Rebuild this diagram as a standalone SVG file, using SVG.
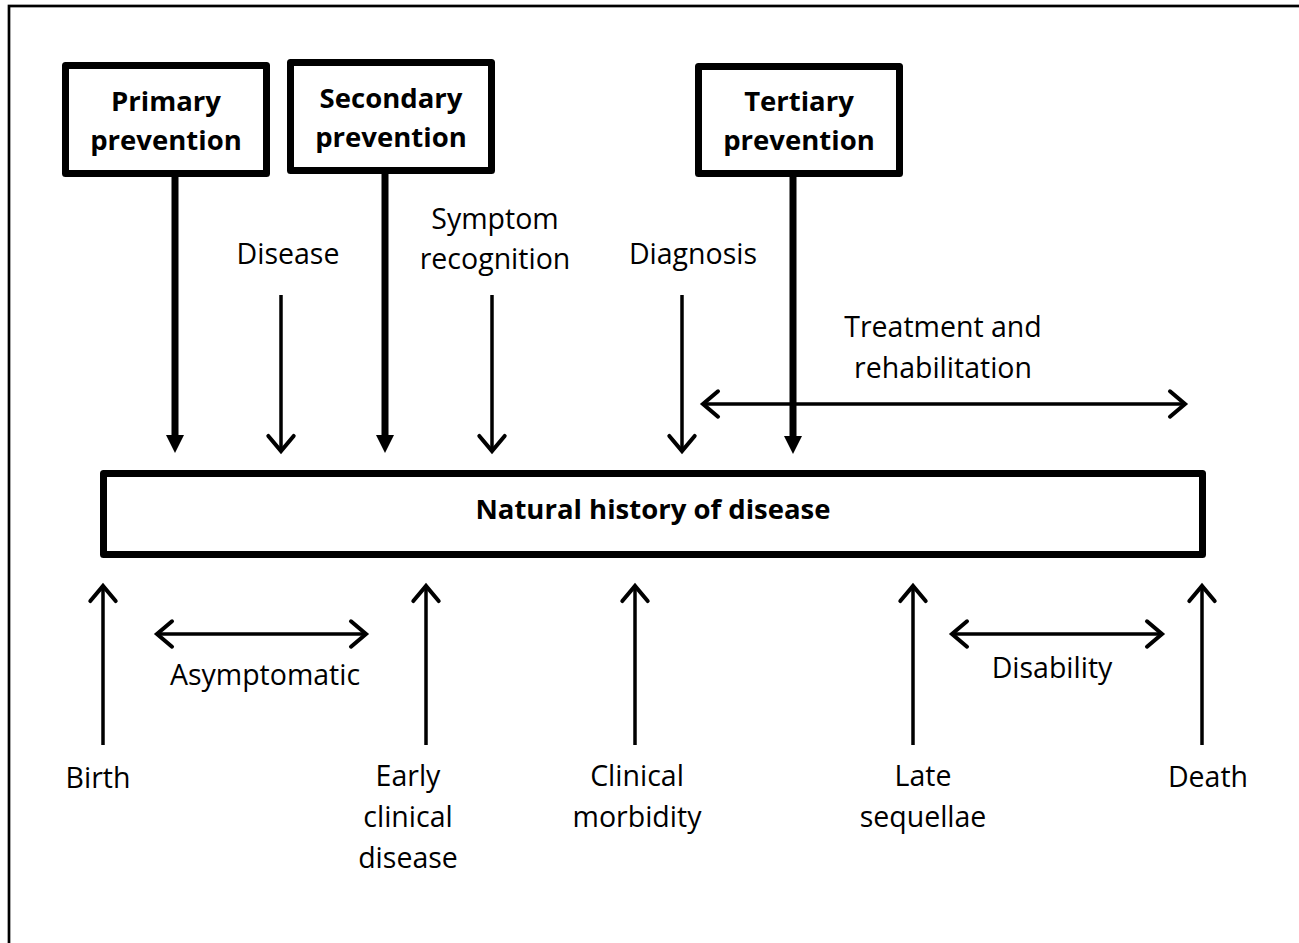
<svg xmlns="http://www.w3.org/2000/svg" width="1299" height="943" viewBox="0 0 1299 943">
  <style>
    text { font-family: "Open Sans", "Liberation Sans", sans-serif; font-size: 28.5px; fill: #000; text-anchor: middle; }
    .b { font-weight: bold; font-size: 27.5px; }
    .box { fill: #fff; stroke: #000; stroke-width: 7; stroke-linejoin: round; }
    .thick { stroke: #000; stroke-width: 7; fill: none; }
    .thin { stroke: #000; stroke-width: 3.5; fill: none; }
  </style>
  <defs>
    <marker id="solid" markerUnits="userSpaceOnUse" markerWidth="20" markerHeight="20" viewBox="0 -10 20 20" refX="0" refY="0" orient="auto" overflow="visible">
      <path d="M0,-9 L18,0 L0,9 Z" fill="#000"/>
    </marker>
    <marker id="open" markerUnits="userSpaceOnUse" markerWidth="30" markerHeight="30" viewBox="-16 -13 20 26" refX="0" refY="0" orient="auto-start-reverse" overflow="visible">
      <path d="M-13,-11 L0,0 L-13,11" fill="none" stroke="#000" stroke-width="3.5" stroke-linecap="round" stroke-linejoin="miter"/>
    </marker>
  </defs>

  <rect width="1299" height="943" fill="#fff"/>
  <!-- page frame (only top and left edges fall inside the view) -->
  <rect x="9" y="6" width="1400" height="1100" fill="none" stroke="#000" stroke-width="2.7"/>

  <g id="connectors">
    <!-- prevention arrows -->
    <line class="thick" x1="175" y1="177" x2="175" y2="435" marker-end="url(#solid)"/>
    <line class="thick" x1="385" y1="174" x2="385" y2="435" marker-end="url(#solid)"/>
    <line class="thick" x1="793" y1="177" x2="793" y2="436" marker-end="url(#solid)"/>
    <!-- event arrows above the timeline -->
    <line class="thin" x1="281" y1="295" x2="281" y2="451" marker-end="url(#open)"/>
    <line class="thin" x1="492" y1="295" x2="492" y2="451" marker-end="url(#open)"/>
    <line class="thin" x1="682" y1="295" x2="682" y2="451" marker-end="url(#open)"/>
    <!-- treatment span -->
    <line class="thin" x1="703" y1="404" x2="1185" y2="404" stroke-width="3" marker-start="url(#open)" marker-end="url(#open)"/>
    <!-- stage arrows below the timeline -->
    <line class="thin" x1="103" y1="745" x2="103" y2="586" marker-end="url(#open)"/>
    <line class="thin" x1="426" y1="745" x2="426" y2="586" marker-end="url(#open)"/>
    <line class="thin" x1="635" y1="745" x2="635" y2="586" marker-end="url(#open)"/>
    <line class="thin" x1="913" y1="745" x2="913" y2="586" marker-end="url(#open)"/>
    <line class="thin" x1="1202" y1="745" x2="1202" y2="586" marker-end="url(#open)"/>
    <!-- spans -->
    <line class="thin" x1="157" y1="634" x2="366" y2="634" stroke-width="3" marker-start="url(#open)" marker-end="url(#open)"/>
    <line class="thin" x1="952" y1="634" x2="1162" y2="634" stroke-width="3" marker-start="url(#open)" marker-end="url(#open)"/>
  </g>

  <g id="primary">
    <rect class="box" x="65.5" y="65.5" width="201" height="108"/>
    <text class="b" x="166" y="111">Primary</text>
    <text class="b" x="166" y="150">prevention</text>
  </g>
  <g id="secondary">
    <rect class="box" x="290.5" y="62.5" width="201" height="108"/>
    <text class="b" x="391" y="108">Secondary</text>
    <text class="b" x="391" y="147">prevention</text>
  </g>
  <g id="tertiary">
    <rect class="box" x="698.5" y="66.5" width="201" height="107"/>
    <text class="b" x="799" y="111">Tertiary</text>
    <text class="b" x="799" y="150">prevention</text>
  </g>

  <g id="natural-history">
    <rect class="box" x="103.5" y="473.5" width="1099" height="81"/>
    <text class="b" x="653" y="519">Natural history of disease</text>
  </g>

  <g id="disease"><text x="288" y="264">Disease</text></g>
  <g id="symptom-recognition">
    <text x="495" y="229">Symptom</text>
    <text x="495" y="269">recognition</text>
  </g>
  <g id="diagnosis"><text x="693" y="264">Diagnosis</text></g>
  <g id="treatment">
    <text x="943" y="337">Treatment and</text>
    <text x="943" y="378">rehabilitation</text>
  </g>

  <g id="asymptomatic"><text x="265" y="685">Asymptomatic</text></g>
  <g id="disability"><text x="1052" y="678">Disability</text></g>

  <g id="birth"><text x="98" y="788">Birth</text></g>
  <g id="early-clinical">
    <text x="408" y="786">Early</text>
    <text x="408" y="827">clinical</text>
    <text x="408" y="868">disease</text>
  </g>
  <g id="clinical-morbidity">
    <text x="637" y="786">Clinical</text>
    <text x="637" y="827">morbidity</text>
  </g>
  <g id="late-sequellae">
    <text x="923" y="786">Late</text>
    <text x="923" y="827">sequellae</text>
  </g>
  <g id="death"><text x="1208" y="787">Death</text></g>
</svg>
